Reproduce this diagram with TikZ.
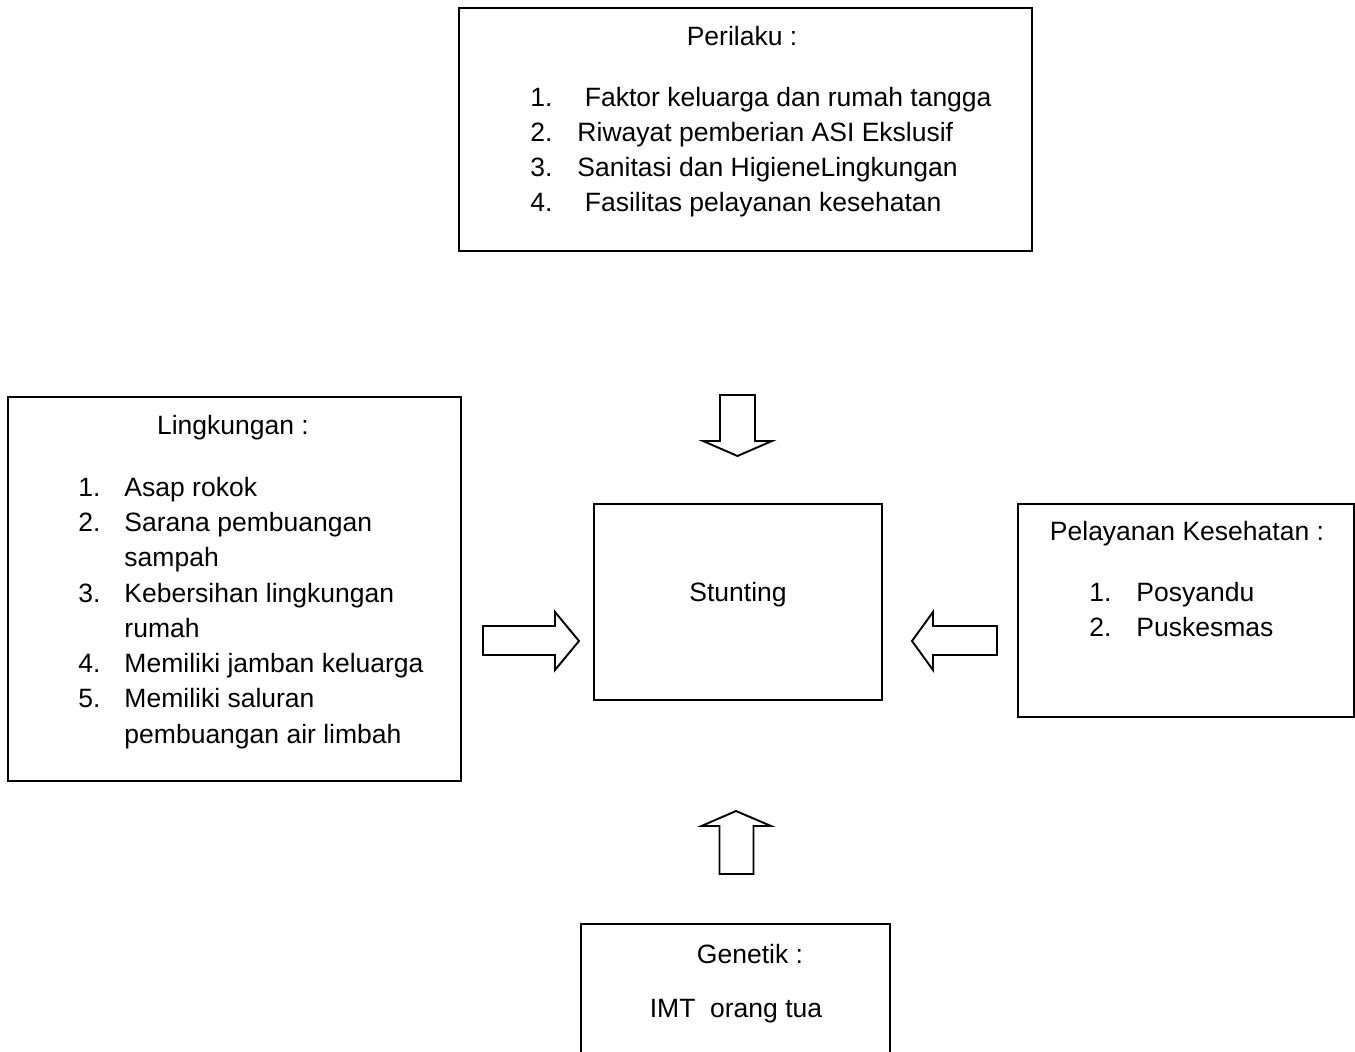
\documentclass[tikz,border=0pt]{standalone}
\usepackage{fontspec}
\setmainfont{Liberation Sans}
\usetikzlibrary{fit}

\begin{document}
\begin{tikzpicture}[x=0.415pt, y=-0.415pt,
    box/.style={draw=black, line width=.8pt, inner sep=0pt},
    blockarr/.style={draw=black, line width=.8pt, line join=miter},
    txt/.style={inner sep=0pt, anchor=base west, font=\fontsize{11}{14.5}\selectfont},
    ctxt/.style={txt, anchor=base}]
    \useasboundingbox (0,0) rectangle (1355,1052);
    \clip (0,0) rectangle (1355,1052);

    % the five boxes
    \node[box, fit={(459,8) (1032,251)}] (perilaku) {};
    \node[box, fit={(8,397) (461,781)}] (lingkungan) {};
    \node[box, fit={(594,504) (882,700)}] (stunting) {};
    \node[box, fit={(1018,504) (1354,717)}] (pelayanan) {};
    \node[box, fit={(581,924) (890,1080)}] (genetik) {};

    % perilaku
    \node[ctxt] (perilakuT) at (742,46) {Perilaku :};
    \foreach \i/\y/\t in {1/106.5/{\ Faktor keluarga dan rumah tangga},2/141.5/{Riwayat pemberian ASI Ekslusif},
            3/176.5/{Sanitasi dan HigieneLingkungan},4/211.5/{\ Fasilitas pelayanan kesehatan}} {
        \node[txt] (pn\i) at (530,\y) {\i.};
        \node[txt] (pt\i) at (577,\y) {\t};}

    % lingkungan
    \node[ctxt] (lingkunganT) at (233,434.5) {Lingkungan :};
    \foreach \i/\y in {1/496.5,2/531.5,3/602.5,4/672.5,5/707.5}
        \node[txt] (ln\i) at (78,\y) {\i.};
    \foreach \j/\y/\t in {1/496.5/Asap rokok,2/531.5/Sarana pembuangan,3/566.5/sampah,4/602.5/Kebersihan lingkungan,
            5/637.5/rumah,6/672.5/Memiliki jamban keluarga,7/707.5/Memiliki saluran,8/743.5/pembuangan air limbah}
        \node[txt] (lt\j) at (124,\y) {\t};

    % stunting
    \node[ctxt] (stuntingT) at (738,602) {Stunting};

    % pelayanan kesehatan
    \node[ctxt] (pelayananT) at (1187,541) {Pelayanan Kesehatan :};
    \foreach \i/\y/\t in {1/602/Posyandu,2/637/Puskesmas} {
        \node[txt] (kn\i) at (1089,\y) {\i.};
        \node[txt] (kt\i) at (1136,\y) {\t};}

    % genetik
    \node[ctxt] (genetikT) at (750,963) {Genetik :};
    \node[ctxt] (genetikI) at (736,1018) {IMT\ \ orang tua};

    % block arrows
    \draw[blockarr] (720,395) -- (755,395) -- (755,441) -- (772,441) -- (737.5,456) -- (703,441) -- (720,441) -- cycle;
    \draw[blockarr] (483,626) -- (555,626) -- (555,612) -- (579,641) -- (555,670) -- (555,655) -- (483,655) -- cycle;
    \draw[blockarr] (997,626) -- (933,626) -- (933,612) -- (912,641) -- (933,670) -- (933,655) -- (997,655) -- cycle;
    \draw[blockarr] (719.5,874) -- (753.5,874) -- (753.5,826) -- (771,826) -- (736,811) -- (701.5,826) -- (719.5,826) -- cycle;
\end{tikzpicture}
\end{document}
